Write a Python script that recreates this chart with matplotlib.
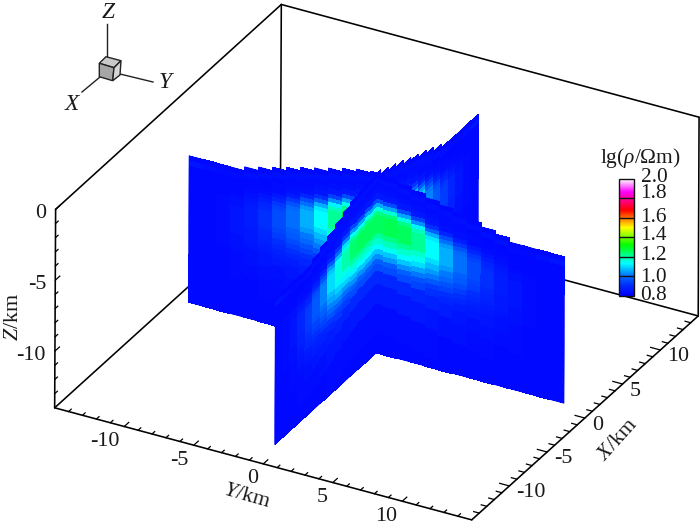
import numpy as np
import matplotlib
matplotlib.use("Agg")
import matplotlib.pyplot as plt
from matplotlib.colors import LinearSegmentedColormap, Normalize
from matplotlib.patches import Polygon

plt.rcParams['font.family'] = ['Liberation Serif', 'DejaVu Serif']
plt.rcParams['mathtext.fontset'] = 'custom'
plt.rcParams['mathtext.rm'] = 'Liberation Serif'
plt.rcParams['mathtext.it'] = 'Liberation Serif:italic'
plt.rcParams['mathtext.bf'] = 'Liberation Serif:bold'

# ---- data -------------------------------------------------------------
cell_centres = list(range(-13, 14))           # km, both slices
depth_edges_px = [0, 5, 10, 15, 20, 26, 30, 34, 38, 42, 47, 52, 56, 60, 65, 71, 76, 81, 86, 91, 98, 111, 131, 160]
z_bottom = -13.36
# surface of each column of the X = 0 slice (index = Y) and the Y = 0 slice (index = X)
top_y_slice = [-3.03, -3.03, -3.03, -3.03, -2.75, -2.5, -2.25, -2.0, -1.75, -1.5, -1.25, -1.0, -0.8, -0.7,
               -0.8, -1.0, -1.25, -1.5, -1.75, -2.0, -2.25, -2.5, -2.75, -3.03, -3.03, -3.03, -3.03]
top_x_slice = [-3.03, -3.03, -3.03, -3.03, -3.03, -2.7, -2.35, -2.0, -1.65, -1.3, -1.05, -0.9, -0.8, -0.7,
               -1.0, -1.25, -1.5, -1.75, -2.0, -2.25, -2.5, -2.76, -3.03, -3.03, -3.03, -3.03, -3.03]

# lg(rho) x 100, rows from the surface down, columns Y = -13 .. 13
y_slice = [
 [82,82,82,82,82,82,82,82,82,82,82,82,82,82,82,82,82,82,82,82,82,82,82,82,82,82,82],
 [85,84,83,83,84,84,84,84,84,84,84,84,84,84,84,84,84,84,84,84,84,84,84,83,83,84,85],
 [82,82,82,82,82,82,82,83,83,83,83,83,83,83,83,83,83,83,83,83,82,82,82,82,82,82,82],
 [82,82,82,82,82,82,83,83,83,84,84,84,84,84,84,84,84,84,83,83,83,82,82,82,82,82,82],
 [82,82,82,82,83,83,83,84,84,85,86,86,86,86,86,86,86,85,84,84,83,83,83,82,82,82,82],
 [82,82,82,83,84,85,86,87,89,91,94,95,95,95,95,95,94,91,89,87,86,85,84,83,82,82,82],
 [82,82,83,84,85,87,89,92,95,98,103,105,105,105,105,105,103,98,95,92,89,87,85,84,83,82,82],
 [82,82,83,84,86,89,92,96,100,106,112,115,116,115,116,115,112,106,100,96,92,89,86,84,83,82,82],
 [82,82,83,85,87,90,94,99,104,111,118,122,123,122,123,122,118,111,104,99,94,90,87,85,83,82,82],
 [82,82,83,85,87,91,95,100,106,113,121,125,126,125,126,125,121,113,106,100,95,91,87,85,83,82,82],
 [82,82,83,85,87,91,95,100,106,113,121,125,126,125,126,125,121,113,106,100,95,91,87,85,83,82,82],
 [82,82,83,85,87,91,95,100,106,113,121,125,126,125,126,125,121,113,106,100,95,91,87,85,83,82,82],
 [82,82,83,85,87,91,95,100,106,113,121,125,126,125,126,125,121,113,106,100,95,91,87,85,83,82,82],
 [82,82,83,85,86,90,94,98,104,110,117,121,122,121,122,121,117,110,104,98,94,90,86,85,83,82,82],
 [82,82,83,84,86,89,93,97,101,107,114,117,118,117,118,117,114,107,101,97,93,89,86,84,83,82,82],
 [82,82,83,84,86,88,91,95,99,104,110,113,114,113,114,113,110,104,99,95,91,88,86,84,83,82,82],
 [82,82,83,84,85,87,90,93,96,101,105,108,108,108,108,108,105,101,96,93,90,87,85,84,83,82,82],
 [82,82,82,83,84,86,88,91,94,97,101,103,104,103,104,103,101,97,94,91,88,86,84,83,82,82,82],
 [82,82,82,83,84,85,87,89,91,93,96,98,98,98,98,98,96,93,91,89,87,85,84,83,82,82,82],
 [82,82,82,83,84,85,86,87,89,91,94,95,95,95,95,95,94,91,89,87,86,85,84,83,82,82,82],
 [82,82,82,83,83,84,84,85,87,88,89,90,90,90,90,90,89,88,87,85,84,84,83,83,82,82,82],
 [82,82,82,82,82,83,83,84,84,85,86,86,86,86,86,86,86,85,84,84,83,83,82,82,82,82,82],
 [82,82,82,82,82,82,82,82,82,83,83,83,83,83,83,83,83,83,82,82,82,82,82,82,82,82,82],
 [82,82,82,82,82,82,82,82,82,82,82,82,82,82,82,82,82,82,82,82,82,82,82,82,82,82,82],
]
# lg(rho) x 100, rows from the surface down, columns X = -13 .. 13
x_slice = [
 [82,82,82,82,82,82,82,82,82,82,82,82,82,82,82,82,82,82,82,82,82,82,82,82,82,82,82],
 [85,84,83,83,84,84,84,84,84,84,84,84,84,84,84,84,84,84,84,84,84,84,84,83,83,84,85],
 [82,82,82,82,82,82,83,83,83,83,83,83,83,83,83,83,83,83,83,83,83,82,82,82,82,82,82],
 [82,82,82,82,83,83,83,83,84,84,84,84,84,84,84,84,84,84,84,83,83,83,83,82,82,82,82],
 [82,82,82,83,83,84,84,85,85,86,86,86,86,86,86,86,86,86,85,85,84,84,83,83,82,82,82],
 [82,82,83,84,85,87,88,90,92,93,95,95,95,95,95,95,95,93,92,90,88,87,85,84,83,82,82],
 [82,83,84,86,88,90,93,97,99,102,104,105,105,105,105,105,104,102,99,97,93,90,88,86,84,83,82],
 [82,83,84,87,90,94,97,104,107,110,114,115,115,115,115,115,114,110,107,104,97,94,90,87,84,83,82],
 [82,83,85,89,92,96,101,108,113,116,121,122,122,122,122,122,121,116,113,108,101,96,92,89,85,83,82],
 [82,83,85,89,93,97,102,110,115,119,124,125,125,125,125,125,124,119,115,110,102,97,93,89,85,83,82],
 [82,83,85,89,93,97,102,110,115,119,124,125,125,125,125,125,124,119,115,110,102,97,93,89,85,83,82],
 [82,83,85,89,93,97,102,110,115,119,124,125,125,125,125,125,124,119,115,110,102,97,93,89,85,83,82],
 [82,83,85,89,93,97,102,110,115,119,124,125,125,125,125,125,124,119,115,110,102,97,93,89,85,83,82],
 [82,83,85,88,92,96,100,107,112,115,120,121,121,121,121,121,120,115,112,107,100,96,92,88,85,83,82],
 [82,83,84,88,91,94,98,105,109,112,116,117,117,117,117,117,116,112,109,105,98,94,91,88,84,83,82],
 [82,83,84,87,90,93,96,102,106,109,112,113,113,113,113,113,112,109,106,102,96,93,90,87,84,83,82],
 [82,83,84,86,89,91,94,99,102,104,107,108,108,108,108,108,107,104,102,99,94,91,89,86,84,83,82],
 [82,82,83,85,87,89,92,96,98,100,103,103,103,103,103,103,103,100,98,96,92,89,87,85,83,82,82],
 [82,82,83,85,86,88,89,92,94,96,98,98,98,98,98,98,98,96,94,92,89,88,86,85,83,82,82],
 [82,82,83,84,85,87,88,90,92,93,95,95,95,95,95,95,95,93,92,90,88,87,85,84,83,82,82],
 [82,82,83,83,84,85,86,87,88,89,90,90,90,90,90,90,90,89,88,87,86,85,84,83,83,82,82],
 [82,82,82,83,83,83,84,85,85,85,86,86,86,86,86,86,86,85,85,85,84,83,83,83,82,82,82],
 [82,82,82,82,82,82,82,83,83,83,83,83,83,83,83,83,83,83,83,83,82,82,82,82,82,82,82],
 [82,82,82,82,82,82,82,82,82,82,82,82,82,82,82,82,82,82,82,82,82,82,82,82,82,82,82],
]
cbar_ticks = [0.8, 1.0, 1.2, 1.4, 1.6, 1.8, 2.0]
cbar_stops = [0.8, 0.9, 1.0, 1.13, 1.32, 1.5, 1.68, 1.87, 2.0]
cbar_cols = ['#0000ff', '#0028ff', '#006eff', '#00ffff', '#00ff00', '#ffff00', '#ff0000', '#ff00ff', '#ffffff']
axis_ticks = [-10, -5, 0, 5, 10]
z_ticks = [0, -5, -10]
# -----------------------------------------------------------------------

# view: box corners (Y, X, Z) and where they sit on the page; fit the camera
box = np.array([[-15, -15, -14], [15, -15, -14], [15, 15, -14], [-15, 15, -14],
                [-15, -15, 0], [-15, 15, 0], [15, 15, 0]], float)
page = np.array([[54, 407], [472, 520], [698, 316], [281, 204], [56, 210], [281, 4], [699, 117]], float)
A, b = [], []
for (p, q, r), (u, v) in zip(box, page):
    A.append([p, q, r, 1, 0, 0, 0, 0, -u*p, -u*q, -u*r]); b.append(u)
    A.append([0, 0, 0, 0, p, q, r, 1, -v*p, -v*q, -v*r]); b.append(v)
cam = np.append(np.linalg.lstsq(np.array(A), np.array(b), rcond=None)[0], 1).reshape(3, 4)


def proj(y, x, z):
    y, x, z = np.broadcast_arrays(np.asarray(y, float), np.asarray(x, float), np.asarray(z, float))
    h = cam @ np.stack([y.ravel(), x.ravel(), z.ravel(), np.ones(y.size)])
    return (h[0]/h[2]).reshape(y.shape), (h[1]/h[2]).reshape(y.shape)


fig = plt.figure(figsize=(7, 5.32), dpi=100)
ax = fig.add_axes([0, 0, 1, 1])
ax.set_xlim(0, 700)
ax.set_ylim(532, 0)
ax.axis('off')

cmap = LinearSegmentedColormap.from_list('rho', [((s-0.8)/1.2, c) for s, c in zip(cbar_stops, cbar_cols)], N=512)
norm = Normalize(0.8, 2.0)

# box
line = dict(color='black', lw=1.15, solid_capstyle='round', zorder=1)
for a, b_ in [(0, 1), (1, 2), (2, 3), (3, 0), (0, 4), (3, 5), (2, 6), (4, 5), (5, 6)]:
    px, py = proj(box[[a, b_], 0], box[[a, b_], 1], box[[a, b_], 2])
    ax.plot(px, py, **line)

# ticks
tick = dict(color='black', lw=0.9, zorder=1)
for v in range(-14, 15):
    L = 0.6 if v % 5 == 0 else 0.35
    ax.plot(*proj([v, v], [-15, -15+L], [-14, -14]), **tick)
    L = 0.7 if v % 5 == 0 else 0.4
    ax.plot(*proj([15, 15-L], [v, v], [-14, -14]), **tick)
for v in range(-13, 1):
    L = 0.6 if v % 5 == 0 else 0.35
    ax.plot(*proj([-15, -15], [-15, -15+L], [v, v]), **tick)

fs = 15.8
tc = '#1a1a1a'
for v in axis_ticks:
    px, py = proj(v, -15, -14)
    ax.text(px-5, py+15, f'{v}', ha='right', va='center', fontsize=fs, color=tc)
    px, py = proj(15, v, -14)
    ax.text(px+7, py+7, f'{v}', ha='left', va='center', fontsize=fs, color=tc)
for v in z_ticks:
    px, py = proj(-15, -15, v)
    ax.text(px-9, py+4, f'{v}', ha='right', va='center', fontsize=fs, color=tc)

ax.text(13, 317, r'$\mathit{Z}$/km', rotation=90, ha='center', va='center', fontsize=fs, color=tc)
ax.text(247, 496, r'$\mathit{Y}$/km', rotation=-16, ha='center', va='center', fontsize=fs, color=tc, rotation_mode='anchor')
ax.text(618, 440, r'$\mathit{X}$/km', rotation=48, ha='center', va='center', fontsize=fs, color=tc, rotation_mode='anchor')

# slices
depth = np.array(depth_edges_px)/14.2
ycells = np.array(y_slice)/100.0
xcells = np.array(x_slice)/100.0
mesh = dict(cmap=cmap, norm=norm, shading='flat', edgecolors='none', antialiased=False)
base = cmap(norm(0.82))


def column(kind, i, u0, u1, order, grow_lo, grow_hi):
    tops = top_y_slice if kind == 'y' else top_x_slice
    vals = ycells if kind == 'y' else xcells
    z = np.append(np.maximum(tops[i]-depth, z_bottom), z_bottom)

    def page_xy(u):
        U, Z = np.meshgrid(np.array(u), z)
        return proj(U, 0*U, Z) if kind == 'y' else proj(0*U, U, Z)
    # smooth silhouette under all the cells of this part of the slice
    qx, qy = page_xy([u0, u1])
    ax.add_patch(Polygon([(qx[0, 0], qy[0, 0]), (qx[0, 1], qy[0, 1]), (qx[-1, 1], qy[-1, 1]), (qx[-1, 0], qy[-1, 0])],
                         closed=True, fc=base, ec=base, lw=0.4, zorder=order-0.5))
    # the cells are grown a hair under the neighbouring column so no seam shows
    px, py = page_xy([u0-grow_lo, u1+grow_hi])
    ax.pcolormesh(px, py, vals[:, [i]], zorder=order, **mesh)


last = len(cell_centres)-1
for i, c in enumerate(cell_centres):
    lo, hi = c-0.5, c+0.5
    gy = 0.04
    gx = 0.07
    if hi > 0:
        column('x', i, max(lo, 0), hi, 2, gx, 0 if i == last else gx)      # behind, right of the crossing
    if lo < 0:
        column('y', i, lo, min(hi, 0), 3, 0 if i == 0 else gy, gy)         # behind, left of the crossing
    if lo < 0:
        column('x', i, lo, min(hi, 0), 4, 0 if i == 0 else gx, gx)         # front, left of the crossing
    if hi > 0:
        column('y', i, max(lo, 0), hi, 5, gy, 0 if i == last else gy)      # front, right of the crossing

# orientation cube
for pts, col in [([(99.3, 63.3), (106, 56.7), (121, 60.7), (114, 67.7)], '#c9c9c9'),
                 ([(99.3, 63.3), (114, 67.7), (112.7, 80.7), (99.3, 76.7)], '#a6a6a6'),
                 ([(114, 67.7), (121, 60.7), (120, 75), (112.7, 80.7)], '#d6d6d6')]:
    ax.add_patch(Polygon(pts, closed=True, fc=col, ec='#222222', lw=1.0, zorder=6))
for xs, ys in [([106.5, 106.5], [24, 57]), ([82, 100], [92, 77]), ([120, 153], [74, 82])]:
    ax.plot(xs, ys, color='#222222', lw=1.0, zorder=5)
for s, px, py in [('Z', 109, 13), ('Y', 167, 82), ('X', 73, 105)]:
    ax.text(px, py, rf'$\mathit{{{s}}}$', ha='center', va='center', fontsize=fs+1, color=tc)

# colour bar
cax = fig.add_axes([619/700, 1-295.5/532, 15/700, 116.5/532])
sm = plt.cm.ScalarMappable(norm=norm, cmap=cmap)
cb = fig.colorbar(sm, cax=cax, ticks=[])
cb.outline.set_linewidth(1.0)
cb.outline.set_edgecolor('#111111')
cax.hlines(cbar_ticks[1:-1], 0, 1, transform=cax.get_yaxis_transform(), color='#111111', lw=1.0)
label_y = [295, 277, 256, 236, 217, 193, 177]
for v, py in zip(cbar_ticks, label_y):
    ax.text(640.5, py, f'{v:.1f}', ha='left', va='center', fontsize=15.4, color=tc, zorder=7)
ax.text(640.5, 158, r'lg($\mathit{\rho}$/$\Omega$m)', ha='center', va='center', fontsize=15.4, color=tc, zorder=7)

fig.savefig('out.png', dpi=100, facecolor='white')
